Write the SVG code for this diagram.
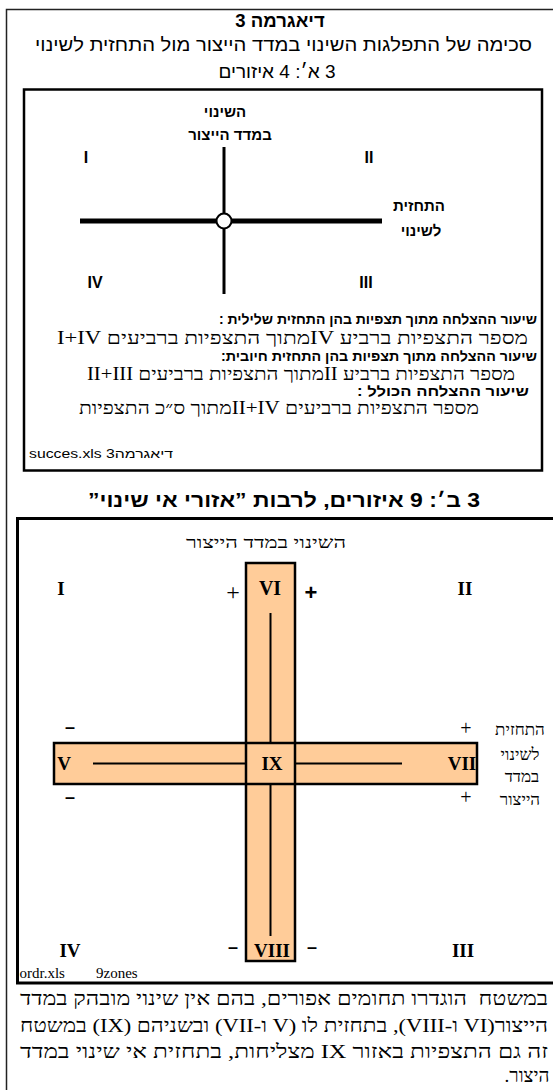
<svg xmlns="http://www.w3.org/2000/svg" width="553" height="1090" viewBox="0 0 553 1090">
<style>
text{fill:#000}
.sans{font-family:"Liberation Sans","DejaVu Sans","Noto Sans",sans-serif}
.serif{font-family:"Liberation Serif","DejaVu Serif",serif}
.b{font-weight:bold}
.m{text-anchor:middle}
.frame{fill:none;stroke:#222;stroke-width:1.5}
.box{fill:none;stroke:#000}
.band{fill:#FFCC99;stroke:none}
.bandedge{fill:none;stroke:#000;stroke-width:2.5}
.thin{stroke:#000;stroke-width:2}
.axis{stroke:#000}
</style>

<path class="frame" d="M6.5 1090 V9.5 H553"/>

<g id="header">
  <text class="sans b m" direction="rtl" x="280" y="27" font-size="18.5">דיאגרמה 3</text>
  <text class="sans m" direction="rtl" x="283.5" y="51" font-size="19" textLength="497" lengthAdjust="spacingAndGlyphs">סכימה של התפלגות השינוי במדד הייצור מול התחזית לשינוי</text>
  <text class="sans m" direction="rtl" x="277" y="78" font-size="19">3 א׳: 4 איזורים</text>
</g>

<g id="panel-a">
  <rect class="box" x="24" y="89.5" width="518" height="381" stroke-width="2.5"/>
  <g id="axes-a">
    <line class="axis" x1="224" y1="147" x2="224" y2="294" stroke-width="3"/>
    <line class="axis" x1="80" y1="221" x2="382" y2="221" stroke-width="5"/>
    <circle cx="224" cy="221" r="7.5" fill="#fff" stroke="#000" stroke-width="2"/>
  </g>
  <g id="label-a-y">
    <text class="sans b m" direction="rtl" x="225" y="117" font-size="15">השינוי</text>
    <text class="sans b m" direction="rtl" x="230" y="140" font-size="15">במדד הייצור</text>
  </g>
  <g id="label-a-x">
    <text class="sans b m" direction="rtl" x="419" y="211" font-size="15">התחזית</text>
    <text class="sans b m" direction="rtl" x="421" y="236" font-size="15">לשינוי</text>
  </g>
  <g id="quadrants-a">
    <text class="sans b m" x="86" y="163" font-size="16">I</text>
    <text class="sans b m" x="369" y="163" font-size="16">II</text>
    <text class="sans b m" x="95" y="288" font-size="16">IV</text>
    <text class="sans b m" x="366" y="288" font-size="16">III</text>
  </g>
  <g id="rates-a">
    <text class="sans b m" direction="rtl" x="378" y="324" font-size="14" textLength="318" lengthAdjust="spacingAndGlyphs">שיעור ההצלחה מתוך תצפיות בהן התחזית שלילית :</text>
    <text class="serif m" direction="rtl" x="292.5" y="344" font-size="18" textLength="471" lengthAdjust="spacingAndGlyphs">מספר התצפיות ברביע IVמתוך התצפיות ברביעים I+IV</text>
    <text class="sans b m" direction="rtl" x="379" y="361" font-size="14" textLength="316" lengthAdjust="spacingAndGlyphs">שיעור ההצלחה מתוך תצפיות בהן התחזית חיובית:</text>
    <text class="serif m" direction="rtl" x="301" y="380" font-size="18" textLength="428" lengthAdjust="spacingAndGlyphs">מספר התצפיות ברביע IIמתוך התצפיות ברביעים II+III</text>
    <text class="sans b m" direction="rtl" x="443" y="396" font-size="14" textLength="172" lengthAdjust="spacingAndGlyphs">שיעור ההצלחה הכולל :</text>
    <text class="serif m" direction="rtl" x="279" y="414" font-size="18" textLength="400" lengthAdjust="spacingAndGlyphs">מספר התצפיות ברביעים II+IVמתוך ס״כ התצפיות</text>
  </g>
  <text class="sans" x="29" y="458" font-size="12" textLength="144" lengthAdjust="spacingAndGlyphs">succes.xls דיאגרמה3</text>
</g>

<g id="title-b">
  <text class="sans b m" direction="rtl" x="284" y="507" font-size="20" textLength="392" lengthAdjust="spacingAndGlyphs">3 ב׳: 9 איזורים, לרבות ”אזורי אי שינוי”</text>
</g>

<g id="panel-b">
  <rect class="box" x="17.5" y="518.5" width="545" height="464.5" stroke-width="3"/>
  <text class="serif m" direction="rtl" x="266" y="548" font-size="17" textLength="160" lengthAdjust="spacingAndGlyphs">השינוי במדד הייצור</text>

  <g id="bands">
    <rect class="band" x="246" y="563" width="49" height="398"/>
    <rect class="band" x="54" y="743" width="423" height="41"/>
    <rect class="bandedge" x="246" y="563" width="49" height="398"/>
    <rect class="bandedge" x="54" y="743" width="423" height="41"/>
  </g>

  <g id="connectors">
    <line class="thin" x1="270.5" y1="613" x2="270.5" y2="743"/>
    <line class="thin" x1="270.5" y1="784" x2="270.5" y2="936"/>
    <line class="thin" x1="93" y1="763.5" x2="246" y2="763.5"/>
    <line class="thin" x1="295" y1="763.5" x2="402" y2="763.5"/>
  </g>

  <g id="zone-I"><text class="serif b m" x="61" y="595" font-size="19">I</text></g>
  <g id="zone-II"><text class="serif b m" x="465" y="595" font-size="19">II</text></g>
  <g id="zone-VI">
    <text class="serif b m" x="270" y="595" font-size="20">VI</text>
    <text class="serif m" x="233" y="600" font-size="24">+</text>
    <text class="sans b m" x="311" y="600" font-size="22">+</text>
  </g>
  <g id="zone-V"><text class="serif b m" x="64" y="770" font-size="19">V</text></g>
  <g id="zone-IX"><text class="serif b m" x="272" y="770" font-size="19">IX</text></g>
  <g id="zone-VII"><text class="serif b m" x="462" y="770" font-size="19">VII</text></g>
  <g id="signs-x">
    <text class="sans b m" x="70" y="733" font-size="18">–</text>
    <text class="sans b m" x="70" y="803" font-size="18">–</text>
    <text class="serif m" x="466" y="735" font-size="20">+</text>
    <text class="serif m" x="466" y="804" font-size="20">+</text>
  </g>
  <g id="label-b-x">
    <text class="serif m" direction="rtl" x="520" y="735" font-size="17">התחזית</text>
    <text class="serif m" direction="rtl" x="520" y="760" font-size="17">לשינוי</text>
    <text class="serif m" direction="rtl" x="522" y="782" font-size="17">במדד</text>
    <text class="serif m" direction="rtl" x="520" y="805" font-size="17">הייצור</text>
  </g>
  <g id="zone-IV"><text class="serif b m" x="70" y="957" font-size="19">IV</text></g>
  <g id="zone-VIII">
    <text class="serif b m" x="272" y="957" font-size="19">VIII</text>
    <text class="sans b m" x="233" y="953" font-size="18">–</text>
    <text class="sans b m" x="312" y="953" font-size="18">–</text>
  </g>
  <g id="zone-III"><text class="serif b m" x="463" y="957" font-size="19">III</text></g>
  <text class="serif" y="978" font-size="15"><tspan x="19.5">ordr.xls</tspan><tspan x="96">9zones</tspan></text>
</g>

<g id="caption">
  <text class="serif m" direction="rtl" xml:space="preserve" x="284" y="1005" font-size="19" textLength="528" lengthAdjust="spacingAndGlyphs">במשטח  הוגדרו תחומים אפורים, בהם אין שינוי מובהק במדד</text>
  <text class="serif m" direction="rtl" x="284" y="1032" font-size="19" textLength="528" lengthAdjust="spacingAndGlyphs">הייצור(VI ו-VIII), בתחזית לו (V ו-VII) ובשניהם (IX) במשטח</text>
  <text class="serif m" direction="rtl" x="284" y="1058" font-size="19" textLength="528" lengthAdjust="spacingAndGlyphs">זה גם התצפיות באזור IX מצליחות, בתחזית אי שינוי במדד</text>
  <text class="serif m" direction="rtl" x="527" y="1082" font-size="19">היצור.</text>
</g>
</svg>
